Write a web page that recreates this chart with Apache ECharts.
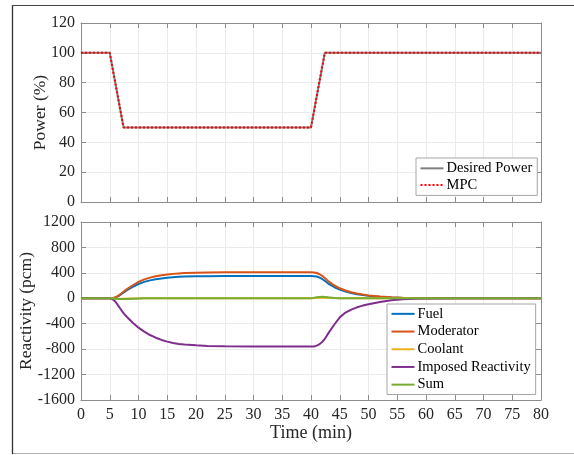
<!DOCTYPE html>
<html>
<head>
<meta charset="utf-8">
<script src="https://cdn.jsdelivr.net/npm/echarts@6/dist/echarts.min.js"></script>
<style>
html,body{margin:0;padding:0;background:#fff;}
#chart{width:574px;height:455px;}
</style>
</head>
<body>
<div id="chart"></div>
<script>
// ---- Data ----
var powerTime = [0, 5, 7.4, 40, 42.4, 80];
var desiredPower = [100, 100, 50, 50, 100, 100];
var mpcPower = [100, 100, 50, 50, 100, 100];

var rTime = [0,5,5.5,6,6.5,7,7.5,8,9,10,11,12,13,14,15,16,17,18,20,22,25,30,35,40,40.5,41,41.5,42,42.5,43,44,45,46,47,48,49,50,52,54,56,58,60,65,70,80];
var fuel = [0,0,2,12,35,65,97,128,180,225,258,282,300,313,323,331,337,341,345,347,349,350,350,350,348,342,325,300,268,232,178,136,105,82,64,50,38,22,12,6,3,1,0,0,0];
var moderator = [0,0,3,15,40,75,110,145,205,258,297,325,346,362,374,384,391,396,403,407,409,410,410,410,407,398,378,350,312,270,205,157,122,96,75,58,45,27,15,8,4,2,0,0,0];
var coolant = [0,0,-3,-6,-8,-8,-7,-5,-3,-2,-1,0,0,0,0,0,0,0,0,0,0,0,0,0,3,8,10,10,8,6,3,1,0,0,0,0,0,0,0,0,0,0,0,0,0];
var imposed = [0,0,-15,-55,-120,-185,-245,-295,-385,-462,-525,-578,-620,-655,-682,-703,-718,-728,-740,-750,-756,-759,-760,-760,-757,-745,-720,-682,-625,-552,-420,-300,-225,-178,-142,-115,-94,-57,-30,-15,-7,-3,-1,0,0];
var sumR = [0,0,-2,-6,-10,-12,-12,-10,-6,-3,-1,0,0,0,0,0,0,0,0,0,0,0,0,0,5,15,22,25,22,15,6,2,0,0,0,0,0,0,0,0,0,0,0,0,0];

var xTicks = {min: 0, max: 80, interval: 5};
var powerTicks = {min: 0, max: 120, interval: 20};
var reactTicks = {min: -1600, max: 1200, interval: 400};

function zip(t, v) { return t.map(function (x, i) { return [x, v[i]]; }); }

var FONT = 'Liberation Serif';
var TXT = '#262626';
var AX = '#8c8c8c';
var GRIDC = '#ebebeb';

function plain(v) { return String(v); }

function xAxisDef(gi, pos, showLabel, grid) {
  return {
    type: 'value', gridIndex: gi, position: pos,
    min: xTicks.min, max: xTicks.max, interval: xTicks.interval,
    axisLine: {show: true, onZero: false, lineStyle: {color: AX, width: 1}},
    axisTick: {show: true, inside: true, length: 5, lineStyle: {color: AX}},
    axisLabel: {show: showLabel, fontFamily: FONT, fontSize: 16, color: TXT, margin: 7, formatter: plain},
    splitLine: {show: grid, lineStyle: {color: GRIDC, width: 1}}
  };
}
function yAxisDef(gi, pos, ticks, showLabel, grid) {
  return {
    type: 'value', gridIndex: gi, position: pos,
    min: ticks.min, max: ticks.max, interval: ticks.interval,
    axisLine: {show: true, onZero: false, lineStyle: {color: AX, width: 1}},
    axisTick: {show: true, inside: true, length: 5, lineStyle: {color: AX}},
    axisLabel: {show: showLabel, fontFamily: FONT, fontSize: 16, color: TXT, margin: 6, formatter: plain},
    splitLine: {show: grid, lineStyle: {color: GRIDC, width: 1}}
  };
}

var xAxes = [
  xAxisDef(0, 'bottom', false, true),
  xAxisDef(0, 'top', false, false),
  xAxisDef(1, 'bottom', true, true),
  xAxisDef(1, 'top', false, false)
];
xAxes[2].name = 'Time (min)';
xAxes[2].nameLocation = 'middle';
xAxes[2].nameGap = 24;
xAxes[2].nameMoveOverlap = false;
xAxes[2].nameTextStyle = {fontFamily: FONT, fontSize: 18, color: TXT};

var yAxes = [
  yAxisDef(0, 'left', powerTicks, true, true),
  yAxisDef(0, 'right', powerTicks, false, false),
  yAxisDef(1, 'left', reactTicks, true, true),
  yAxisDef(1, 'right', reactTicks, false, false)
];
yAxes[0].name = 'Power (%)';
yAxes[0].nameLocation = 'middle';
yAxes[0].nameGap = 32;
yAxes[0].nameMoveOverlap = false;
yAxes[0].nameTextStyle = {fontFamily: FONT, fontSize: 17.5, color: TXT};
yAxes[2].name = 'Reactivity (pcm)';
yAxes[2].nameLocation = 'middle';
yAxes[2].nameGap = 46;
yAxes[2].nameMoveOverlap = false;
yAxes[2].nameTextStyle = {fontFamily: FONT, fontSize: 17.5, color: TXT};

function lineSeries(name, xi, yi, data, color, type, z) {
  return {
    name: name, type: 'line', xAxisIndex: xi, yAxisIndex: yi,
    data: data, symbol: 'none', smooth: false, animation: false, z: z,
    lineStyle: {color: color, width: 2, type: type},
    itemStyle: {color: color}
  };
}

var series = [
  lineSeries('Desired Power', 0, 0, zip(powerTime, desiredPower), '#808080', 'solid', 2),
  lineSeries('MPC', 0, 0, zip(powerTime, mpcPower), '#ff0000', [2, 2], 3),
  lineSeries('Fuel', 2, 2, zip(rTime, fuel), '#0072BD', 'solid', 2),
  lineSeries('Moderator', 2, 2, zip(rTime, moderator), '#D95319', 'solid', 3),
  lineSeries('Coolant', 2, 2, zip(rTime, coolant), '#EDB120', 'solid', 4),
  lineSeries('Imposed Reactivity', 2, 2, zip(rTime, imposed), '#7E2F8E', 'solid', 5),
  lineSeries('Sum', 2, 2, zip(rTime, sumR), '#77AC30', 'solid', 6)
];

var option = {
  animation: false,
  backgroundColor: '#ffffff',
  grid: [
    {left: 81, top: 23, width: 460, height: 179},
    {left: 81, top: 222, width: 460, height: 178}
  ],
  xAxis: xAxes,
  yAxis: yAxes,
  legend: [
    {
      data: ['Desired Power', 'MPC'],
      orient: 'vertical', left: 416, top: 158,
      itemWidth: 23, itemHeight: 10, itemGap: 0,
      padding: [2, 5, 2, 3.5],
      backgroundColor: '#fff',
      borderColor: '#a6a6a6', borderWidth: 1, borderRadius: 0,
      itemStyle: {opacity: 0},
      lineStyle: {width: 2},
      textStyle: {fontFamily: FONT, fontSize: 14.5, color: '#000', lineHeight: 16.7, padding: [0, 0, 0, -2]},
      selectedMode: false
    },
    {
      data: ['Fuel', 'Moderator', 'Coolant', 'Imposed Reactivity', 'Sum'],
      orient: 'vertical', left: 387, top: 304,
      itemWidth: 23, itemHeight: 10, itemGap: 0,
      padding: [1, 5, 1, 3.5],
      backgroundColor: '#fff',
      borderColor: '#a6a6a6', borderWidth: 1, borderRadius: 0,
      itemStyle: {opacity: 0},
      lineStyle: {width: 2},
      textStyle: {fontFamily: FONT, fontSize: 14.5, color: '#000', lineHeight: 17.7, padding: [0, 0, 0, -2]},
      selectedMode: false
    }
  ],
  graphic: [
    {type: 'rect', shape: {x: 12.5, y: 5.5, width: 600, height: 448}, style: {fill: 'none', stroke: '#b0b0b0', lineWidth: 1}, silent: true, z: -10},
    {type: 'line', shape: {x1: 12.5, y1: 5, x2: 12.5, y2: 454}, style: {stroke: '#333', lineWidth: 1.3}, silent: true},
    {type: 'line', shape: {x1: 12, y1: 5.5, x2: 580, y2: 5.5}, style: {stroke: '#444', lineWidth: 1.2}, silent: true}
  ],
  series: series
};

var chart = echarts.init(document.getElementById('chart'), null, {renderer: 'canvas'});
chart.setOption(option);
</script>
</body>
</html>
